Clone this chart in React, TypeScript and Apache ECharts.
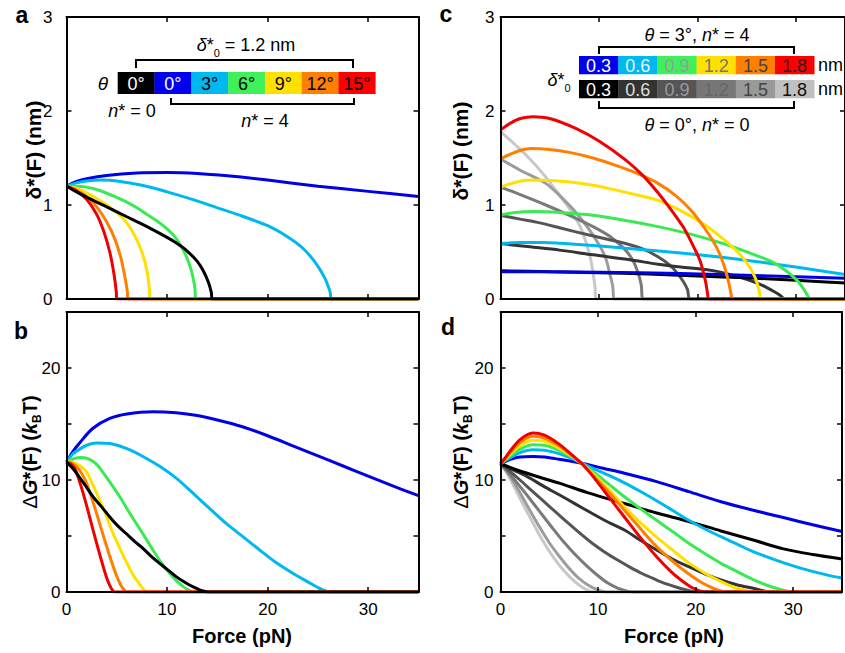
import React, { useEffect, useRef } from 'react';
import * as echarts from 'echarts';

const FONT = '"Liberation Sans", Arial, Helvetica, sans-serif';

// ---------- Panel a: delta*(F), delta0 = 1.2 nm ----------
const aBlack = [[0,1.2],[1,1.14],[2,1.085],[3,1.03],[4,0.98],[6,0.875],[8,0.77],[10,0.655],[11,0.59],[12,0.51],[13,0.4],[13.6,0.3],[14.1,0.18],[14.4,0.07],[14.5,0],[35,0]];
const aBlue = [[0,1.2],[1,1.25],[2,1.28],[4,1.315],[7,1.34],[10,1.345],[13,1.335],[16,1.31],[20,1.265],[25,1.2],[30,1.145],[35,1.09]];
const aCyan = [[0,1.2],[1,1.235],[2,1.255],[3.5,1.265],[5,1.255],[7.5,1.21],[10,1.14],[12.5,1.06],[15,0.97],[17.5,0.88],[20,0.78],[22,0.66],[23.5,0.54],[24.8,0.38],[25.7,0.22],[26.2,0.08],[26.4,0],[35,0]];
const aGreen = [[0,1.2],[1,1.2],[2,1.19],[3,1.165],[4,1.125],[5,1.08],[6,1.03],[7,0.97],[8,0.9],[9,0.83],[10,0.745],[11,0.63],[11.8,0.48],[12.4,0.31],[12.75,0.13],[12.9,0],[35,0]];
const aYellow = [[0,1.2],[1,1.175],[2,1.13],[3,1.07],[4,1.0],[5,0.92],[6,0.81],[6.8,0.67],[7.5,0.5],[8.0,0.3],[8.25,0.1],[8.3,0],[35,0]];
const aOrange = [[0,1.2],[1,1.16],[2,1.09],[3,0.98],[4,0.82],[4.8,0.64],[5.4,0.44],[5.8,0.24],[6.05,0.08],[6.1,0],[35,0]];
const aRed = [[0,1.2],[1,1.15],[2,1.06],[3,0.9],[3.7,0.72],[4.3,0.5],[4.7,0.28],[4.95,0.08],[5.0,0],[35,0]];

// ---------- Panel b: dG*(F) ----------
const bBlue = [[0,11.6],[0.6,12.5],[1.3,13.3],[2.6,14.6],[4.3,15.5],[6,15.9],[8.6,16.1],[10.9,16.0],[13,15.75],[15,15.35],[17.5,14.75],[20,13.95],[22.5,13.05],[25,12.15],[27.5,11.25],[30,10.35],[32.5,9.45],[35,8.6]];
const bCyan = [[0,11.6],[0.6,12.3],[1.3,12.75],[2,13.1],[3,13.3],[4.3,13.25],[6,12.8],[7.6,12.1],[9.3,11.2],[11,10.1],[12.6,8.8],[14.3,7.4],[15.9,6.1],[17.6,4.9],[19.2,3.75],[20.8,2.65],[22.5,1.67],[24,0.9],[25.1,0.35],[25.9,0.05],[26.2,0],[35,0]];
const bGreen = [[0,11.6],[0.7,11.9],[1.5,12.0],[2.3,11.85],[3,11.4],[3.6,10.7],[4.4,9.7],[5.3,8.5],[6.1,7.3],[6.95,6.1],[7.8,4.9],[8.6,3.75],[9.4,2.65],[10.25,1.67],[11,0.95],[11.6,0.48],[12.2,0.15],[12.7,0],[35,0]];
const bYellow = [[0,11.6],[0.5,11.6],[1,11.45],[1.5,11.15],[2,10.7],[2.6,9.6],[3.3,8.2],[4,6.7],[4.6,5.3],[5.3,3.9],[6,2.6],[6.6,1.55],[7.3,0.65],[7.7,0.2],[8.0,0],[35,0]];
const bOrange = [[0,11.6],[0.5,11.5],[1,11.2],[1.5,10.6],[2,9.7],[2.5,8.4],[3,7.0],[3.5,5.5],[4,4.05],[4.5,2.65],[5,1.4],[5.4,0.6],[5.8,0.12],[6.0,0],[35,0]];
const bRed = [[0,11.6],[0.4,11.45],[0.84,11.0],[1.25,10.0],[1.66,8.8],[2.15,7.2],[2.65,5.5],[3.15,3.85],[3.64,2.3],[4.1,1.0],[4.5,0.25],[4.8,0],[35,0]];
const bBlack = [[0,11.6],[0.5,11.15],[1,10.6],[1.8,9.6],[2.65,8.5],[3.5,7.6],[4.3,6.7],[5.1,5.9],[5.96,5.2],[6.8,4.5],[7.6,3.9],[8.4,3.2],[9.26,2.56],[10.1,1.95],[10.9,1.37],[11.8,0.85],[12.6,0.45],[13.3,0.17],[13.9,0.03],[14.3,0],[35,0]];

// ---------- Panel c: delta*(F) for delta0 = 0.3 ... 1.8 ----------
const cBlue = [[0,0.29],[5,0.29],[10,0.285],[18.3,0.27],[24,0.255],[29.2,0.24],[35,0.22]];
const cCyan = [[0,0.59],[2,0.6],[4.3,0.6],[8,0.58],[12.7,0.54],[18.3,0.49],[22,0.45],[25.9,0.4],[30,0.34],[35,0.26]];
const cGreen = [[0,0.895],[1.5,0.92],[3.4,0.93],[6,0.92],[9.4,0.89],[13,0.83],[16,0.77],[19.3,0.69],[22.6,0.59],[25.3,0.49],[27.5,0.4],[29,0.3],[30.2,0.19],[30.9,0.09],[31.3,0.02],[31.4,0],[35,0]];
const cYellow = [[0,1.19],[1.5,1.24],[3.1,1.265],[5,1.26],[7,1.245],[9.4,1.21],[12.5,1.14],[16,1.05],[18.5,0.93],[20.9,0.78],[22.6,0.64],[24.2,0.49],[25.3,0.34],[25.9,0.22],[26.3,0.08],[26.5,0],[35,0]];
const cOrange = [[0,1.49],[1,1.54],[2,1.58],[3.1,1.6],[5,1.59],[7,1.56],[9.4,1.5],[12,1.41],[14,1.33],[16,1.23],[17.8,1.1],[19.3,0.95],[20.7,0.76],[21.9,0.56],[22.7,0.36],[23.2,0.17],[23.45,0.04],[23.5,0],[35,0]];
const cRed = [[0,1.8],[1,1.87],[2,1.92],[3.3,1.94],[5,1.92],[7.75,1.81],[10,1.68],[12.7,1.48],[14.5,1.31],[16,1.13],[17.4,0.94],[18.6,0.76],[19.6,0.56],[20.3,0.4],[20.8,0.2],[21.05,0.05],[21.1,0],[35,0]];
const cK03 = [[0,0.3],[5,0.29],[10,0.28],[15,0.265],[20,0.245],[25,0.225],[30,0.2],[35,0.17]];
const cK06 = [[0,0.59],[3,0.555],[6,0.52],[9.4,0.47],[13,0.42],[16,0.37],[18.3,0.34],[21,0.31],[23,0.27],[25,0.21],[26.5,0.15],[27.6,0.09],[28.4,0.04],[28.9,0],[35,0]];
const cK09 = [[0,0.89],[2,0.85],[4,0.81],[6.1,0.755],[9,0.68],[12.7,0.59],[14.5,0.53],[16,0.45],[17.2,0.36],[18,0.27],[18.6,0.18],[19,0.1],[19.3,0],[35,0]];
const cK12 = [[0,1.19],[2,1.11],[4.6,1.0],[7,0.89],[9.4,0.77],[11.2,0.66],[12.7,0.52],[13.5,0.4],[14,0.27],[14.3,0.15],[14.5,0],[35,0]];
const cK15 = [[0,1.49],[2,1.37],[4.6,1.23],[6.5,1.05],[7.75,0.91],[9,0.74],[10.1,0.56],[10.7,0.43],[11.1,0.27],[11.4,0.14],[11.6,0],[35,0]];
const cK18 = [[0,1.78],[1.4,1.65],[2.8,1.51],[4.5,1.31],[6.1,1.09],[7.2,0.93],[8.1,0.77],[8.7,0.6],[9.1,0.45],[9.4,0.28],[9.6,0.13],[9.7,0],[35,0]];

// ---------- Panel d: dG*(F) for delta0 = 0.3 ... 1.8 ----------
const dBlue = [[0,11.45],[0.5,11.65],[1,11.85],[2,12.05],[3.3,12.1],[4.5,12.05],[6,11.85],[8.3,11.5],[10.5,11.05],[12.7,10.6],[16,9.85],[19.3,8.96],[22.6,8.06],[25.9,7.3],[29.2,6.6],[32,6.0],[35,5.4]];
const dCyan = [[0,11.45],[0.5,11.75],[1,12.0],[2,12.45],[3.3,12.7],[4.5,12.65],[6,12.35],[7.5,11.85],[8.3,11.5],[9.5,11.03],[11,10.45],[12.7,9.75],[14.4,8.95],[16,8.15],[17.7,7.25],[19.3,6.4],[21,5.6],[22.6,4.94],[24.3,4.25],[25.9,3.6],[27.6,3.05],[29.2,2.56],[31.5,1.95],[34.2,1.37],[35,1.25]];
const dGreen = [[0,11.45],[0.5,11.8],[1,12.15],[2,12.75],[3.3,13.15],[4.5,13.1],[6,12.65],[7.5,11.95],[8.3,11.5],[9.5,10.75],[11,9.7],[12.7,8.5],[14.4,7.4],[16,6.4],[17.7,5.35],[19.3,4.35],[21,3.4],[22.6,2.56],[24.3,1.8],[25.9,1.1],[27.3,0.6],[28.6,0.25],[29.5,0.05],[30,0],[35,0]];
const dYellow = [[0,11.45],[0.5,11.9],[1,12.3],[2,13.05],[3.3,13.55],[4.5,13.45],[6,12.85],[7.5,12.0],[8.3,11.5],[9.5,10.55],[11,9.25],[12.7,7.6],[14.4,6.15],[16,4.9],[17.7,3.7],[19.3,2.6],[21,1.65],[22.6,0.92],[24,0.4],[25.3,0.1],[26,0],[35,0]];
const dOrange = [[0,11.45],[0.5,11.95],[1,12.45],[2,13.35],[3.3,13.9],[4.5,13.75],[6,13.05],[7.5,12.05],[8.3,11.5],[9.5,10.4],[11,9.0],[12.7,7.3],[14.4,5.6],[16,4.05],[17.7,2.7],[19.3,1.6],[20.6,0.85],[21.9,0.3],[22.8,0.05],[23.3,0],[35,0]];
const dRed = [[0,11.45],[0.5,12.0],[1,12.6],[2,13.6],[3.3,14.2],[4.5,14.0],[6,13.2],[7.5,12.1],[8.4,11.4],[9.5,10.3],[11,8.6],[12.7,6.7],[14.3,4.9],[16,3.15],[17.5,1.8],[18.6,1.0],[19.6,0.4],[20.5,0.08],[21.1,0],[35,0]];
const dK03 = [[0,11.45],[2,10.8],[4,10.25],[6.1,9.7],[9,8.85],[12.7,7.9],[16,7.05],[19.3,6.3],[22.6,5.45],[25.9,4.64],[29,3.85],[32,3.35],[35,2.95]];
const dK06 = [[0,11.45],[1.4,10.85],[2.75,10.3],[4.4,9.45],[6.06,8.66],[7.7,7.85],[9.36,7.03],[11,6.25],[12.7,5.54],[14.3,4.65],[16,3.75],[17.6,2.95],[19.3,2.26],[21,1.6],[22.6,1.07],[24.3,0.62],[25.9,0.33],[27,0.1],[27.6,0],[35,0]];
const dK09 = [[0,11.45],[1,10.75],[2,10.0],[3.2,9.05],[4.35,8.15],[5.7,7.1],[7,6.1],[8.2,5.2],[9.4,4.35],[10.7,3.55],[12,2.85],[13.3,2.2],[14.5,1.65],[15.8,1.15],[17,0.72],[18.3,0.36],[19.3,0.13],[20,0],[35,0]];
const dK12 = [[0,11.45],[0.8,10.7],[1.6,9.85],[2.75,8.6],[4,7.2],[5.2,5.85],[6.4,4.55],[7.7,3.3],[9,2.2],[10,1.45],[11,0.8],[12,0.35],[13,0.08],[13.7,0],[35,0]];
const dK15 = [[0,11.45],[0.6,10.8],[1.3,9.9],[2.1,8.7],[3,7.3],[4,5.8],[5,4.4],[6.06,3.15],[7,2.15],[8,1.25],[9,0.6],[9.9,0.2],[10.6,0.03],[11,0],[35,0]];
const dK18 = [[0,11.45],[0.5,10.85],[1,10.1],[1.4,9.4],[2.2,8.0],[3,6.7],[4.35,4.55],[5.5,3.0],[6.6,1.8],[7.7,0.85],[8.6,0.3],[9.3,0.05],[9.6,0],[35,0]];

// ---------- legend content ----------
const thetaLabels = ['0°', '0°', '3°', '6°', '9°', '12°', '15°'];
const thetaCellColors = ['#000000', '#0000ee', '#00b8f0', '#3ef05a', '#ffe000', '#ff8000', '#ff0000'];
const thetaTextColors = ['#ffffff', '#ffffff', '#000000', '#000000', '#000000', '#000000', '#000000'];
const deltaLabels = ['0.3', '0.6', '0.9', '1.2', '1.5', '1.8'];
const colorCellColors = ['#0000ee', '#00b8f0', '#3ef05a', '#ffe000', '#ff8000', '#ff0000'];
const colorCellText = ['#ffffff', '#e8f4ff', '#9a9a9a', '#777777', '#444444', '#222222'];
const grayCellColors = ['#000000', '#333333', '#555555', '#777777', '#999999', '#c0c0c0'];
const grayCellText = ['#ffffff', '#dddddd', '#999999', '#666666', '#444444', '#111111'];

// line colours
const C = {
  black: '#000000', blue: '#0000e6', cyan: '#00b8f0', green: '#3aea55',
  yellow: '#ffe000', orange: '#ff8000', red: '#f00000',
  k03: '#000000', k06: '#333333', k09: '#555555', k12: '#7a7a7a', k15: '#9c9c9c', k18: '#c8c8c8',
};

const GRIDS = [
  { left: 66.5, top: 17, width: 352, height: 282 },
  { left: 66.5, top: 312, width: 352, height: 280 },
  { left: 500.5, top: 17, width: 352, height: 282 },
  { left: 500.5, top: 312, width: 352, height: 280 },
];

function line(data: number[][], color: string, g: number) {
  return {
    type: 'line', data, xAxisIndex: 2 * g, yAxisIndex: 2 * g,
    showSymbol: false, symbol: 'none', smooth: 0.3, silent: true,
    lineStyle: { color, width: 3 }, z: 2,
  };
}

function buildOption() {
  const xAxis: any[] = [];
  const yAxis: any[] = [];
  GRIDS.forEach((_, g) => {
    const bottomPanel = g === 1 || g === 3;
    const isG = g === 1 || g === 3;
    const common = {
      gridIndex: g, type: 'value', min: 0, max: 35, interval: 10, z: 10,
      splitLine: { show: false },
      axisLine: { show: true, onZero: false, lineStyle: { color: '#000', width: 2 } },
      axisTick: { show: true, inside: true, length: 5, lineStyle: { color: '#000', width: 1.5 } },
    };
    xAxis.push({
      ...common, position: 'bottom',
      axisLabel: {
        show: bottomPanel, margin: 9, fontSize: 17, color: '#000', fontFamily: FONT,
        formatter: (v: number) => (v === 35 ? '' : String(v)),
      },
    });
    xAxis.push({ ...common, position: 'top', axisLabel: { show: false } });
    const ycommon = {
      gridIndex: g, type: 'value', min: 0, max: isG ? 25 : 3, interval: isG ? 5 : 1, z: 10,
      splitLine: { show: false },
      axisLine: { show: true, onZero: false, lineStyle: { color: '#000', width: 2 } },
      axisTick: { show: true, inside: true, length: 5, lineStyle: { color: '#000', width: 1.5 } },
    };
    const margins = [14, 6, 6, 7];
    yAxis.push({
      ...ycommon, position: 'left',
      axisLabel: {
        show: true, margin: margins[g], fontSize: 17, color: '#000', fontFamily: FONT,
        formatter: (v: number) => (isG ? (v % 10 === 0 && v <= 20 ? String(v) : '') : String(v)),
      },
    });
    yAxis.push({ ...ycommon, position: 'right', axisLabel: { show: false } });
  });

  const series = [
    line(aBlue, C.blue, 0), line(aCyan, C.cyan, 0), line(aGreen, C.green, 0),
    line(aYellow, C.yellow, 0), line(aOrange, C.orange, 0), line(aRed, C.red, 0), line(aBlack, C.black, 0),
    line(bBlue, C.blue, 1), line(bCyan, C.cyan, 1), line(bGreen, C.green, 1),
    line(bYellow, C.yellow, 1), line(bOrange, C.orange, 1), line(bRed, C.red, 1), line(bBlack, C.black, 1),
    line(cK18, C.k18, 2), line(cK15, C.k15, 2), line(cK12, C.k12, 2), line(cK09, C.k09, 2),
    line(cK06, C.k06, 2), line(cK03, C.k03, 2),
    line(cBlue, C.blue, 2), line(cCyan, C.cyan, 2), line(cGreen, C.green, 2),
    line(cYellow, C.yellow, 2), line(cOrange, C.orange, 2), line(cRed, C.red, 2),
    line(dK18, C.k18, 3), line(dK15, C.k15, 3), line(dK12, C.k12, 3), line(dK09, C.k09, 3),
    line(dK06, C.k06, 3), line(dK03, C.k03, 3),
    line(dBlue, C.blue, 3), line(dCyan, C.cyan, 3), line(dGreen, C.green, 3),
    line(dYellow, C.yellow, 3), line(dOrange, C.orange, 3), line(dRed, C.red, 3),
  ];

  const txt = (x: number, y: number, text: string, opts: any = {}) => ({
    type: 'text', x, y, z: 100, rotation: opts.rotation || 0,
    style: {
      text, fill: opts.fill || '#000',
      fontSize: opts.fontSize || 17, fontFamily: FONT,
      fontWeight: opts.fontWeight || 'normal', fontStyle: opts.fontStyle || 'normal',
      align: opts.align || 'center', textAlign: opts.align || 'center',
      verticalAlign: 'middle', textVerticalAlign: 'middle',
      rich: opts.rich,
    },
  });
  const bracket = (x1: number, x2: number, yLine: number, yEnd: number) => ({
    type: 'polyline', z: 100,
    shape: { points: [[x1, yEnd], [x1, yLine], [x2, yLine], [x2, yEnd]] },
    style: { stroke: '#000', lineWidth: 2, fill: null },
  });

  const graphics: any[] = [];
  // panel letters
  graphics.push(txt(22, 15, 'a', { fontSize: 23, fontWeight: 'bold' }));
  graphics.push(txt(21, 331, 'b', { fontSize: 23, fontWeight: 'bold' }));
  graphics.push(txt(446, 14, 'c', { fontSize: 23, fontWeight: 'bold' }));
  graphics.push(txt(448, 327, 'd', { fontSize: 23, fontWeight: 'bold' }));

  // x titles
  graphics.push(txt(242, 636, 'Force (pN)', { fontSize: 20, fontWeight: 'bold' }));
  graphics.push(txt(674, 636, 'Force (pN)', { fontSize: 20, fontWeight: 'bold' }));

  // y titles
  const richY = {
    b: { fontSize: 20, fontWeight: 'bold', fontFamily: FONT, lineHeight: 24, verticalAlign: 'bottom' },
    bd: { fontSize: 21, fontWeight: 'bold', fontFamily: FONT, lineHeight: 24, verticalAlign: 'bottom' },
    bi: { fontSize: 20, fontWeight: 'bold', fontStyle: 'italic', fontFamily: FONT, lineHeight: 24, verticalAlign: 'bottom' },
    n: { fontSize: 20, fontWeight: 'normal', fontFamily: FONT, lineHeight: 24, verticalAlign: 'bottom' },
    sub: { fontSize: 12, fontWeight: 'bold', fontFamily: FONT, lineHeight: 12, verticalAlign: 'bottom', padding: [0, 0, -3, 0] },
  };
  const dTitle = '{bd|δ*(F) (nm)}';
  const gTitle = '{n|Δ}{bi|G}{b|*(F) (}{bi|k}{sub|B}{b|T)}';
  graphics.push(txt(32, 150, dTitle, { rotation: Math.PI / 2, rich: richY }));
  graphics.push(txt(28, 452, gTitle, { rotation: Math.PI / 2, rich: richY }));
  graphics.push(txt(459, 151, dTitle, { rotation: Math.PI / 2, rich: richY }));
  graphics.push(txt(459, 452, gTitle, { rotation: Math.PI / 2, rich: richY }));

  // legend a
  const richL = {
    n: { fontSize: 18, fontFamily: FONT, lineHeight: 22, verticalAlign: 'bottom' },
    i: { fontSize: 18, fontFamily: FONT, fontStyle: 'italic', lineHeight: 22, verticalAlign: 'bottom' },
    sub: { fontSize: 11, fontFamily: FONT, lineHeight: 11, verticalAlign: 'bottom', padding: [0, 0, -4, 0] },
  };
  graphics.push(txt(246, 43, '{i|δ}{n|*}{sub|0}{n| = 1.2 nm}', { rich: richL }));
  graphics.push(bracket(136, 353, 60, 68));
  const aCellX0 = 117.7, aCellW = 36.8;
  thetaLabels.forEach((lab, i) => {
    graphics.push({
      type: 'rect', z: 99,
      shape: { x: aCellX0 + i * aCellW, y: 72, width: aCellW + 0.3, height: 22 },
      style: { fill: thetaCellColors[i] },
    });
    graphics.push(txt(aCellX0 + (i + 0.5) * aCellW, 83.5, lab, { fontSize: 18, fill: thetaTextColors[i] }));
  });
  graphics.push(txt(103, 83, 'θ', { fontSize: 19, fontStyle: 'italic' }));
  graphics.push(bracket(171, 354, 104, 98));
  graphics.push(txt(132, 109, '{i|n}{n|* = 0}', { rich: richL }));
  graphics.push(txt(265, 119, '{i|n}{n|* = 4}', { rich: richL }));

  // legend c
  graphics.push(txt(697, 33, '{i|θ}{n| = 3°, }{i|n}{n|* = 4}', { rich: richL }));
  graphics.push(bracket(599, 794, 47, 54));
  const cCellX0 = 579, cCellW = 39.2;
  deltaLabels.forEach((lab, i) => {
    graphics.push({
      type: 'rect', z: 99,
      shape: { x: cCellX0 + i * cCellW, y: 56, width: cCellW + 0.3, height: 18.3 },
      style: { fill: colorCellColors[i] },
    });
    graphics.push(txt(cCellX0 + (i + 0.5) * cCellW, 65.5, lab, { fontSize: 18, fill: colorCellText[i] }));
    graphics.push({
      type: 'rect', z: 99,
      shape: { x: cCellX0 + i * cCellW, y: 80, width: cCellW + 0.3, height: 18.3 },
      style: { fill: grayCellColors[i] },
    });
    graphics.push(txt(cCellX0 + (i + 0.5) * cCellW, 89.5, lab, { fontSize: 18, fill: grayCellText[i] }));
  });
  graphics.push(txt(818, 65, 'nm', { fontSize: 18, align: 'left' }));
  graphics.push(txt(818, 89, 'nm', { fontSize: 18, align: 'left' }));
  graphics.push(txt(559, 78, '{i|δ}{n|*}{sub|0}', { rich: richL }));
  graphics.push(bracket(599, 794, 108, 101));
  graphics.push(txt(697, 123, '{i|θ}{n| = 0°, }{i|n}{n|* = 0}', { rich: richL }));

  return {
    animation: false,
    backgroundColor: '#ffffff',
    grid: GRIDS.map((g) => ({ ...g, show: false })),
    xAxis, yAxis, series, graphic: graphics,
  };
}

export default function App() {
  const ref = useRef<HTMLDivElement>(null);
  useEffect(() => {
    if (!ref.current) return;
    const chart = echarts.init(ref.current, undefined, { renderer: 'svg' });
    chart.setOption(buildOption() as any);
    return () => chart.dispose();
  }, []);
  return <div ref={ref} style={{ position: 'fixed', left: 0, top: 0, width: 845, height: 653 }} />;
}
